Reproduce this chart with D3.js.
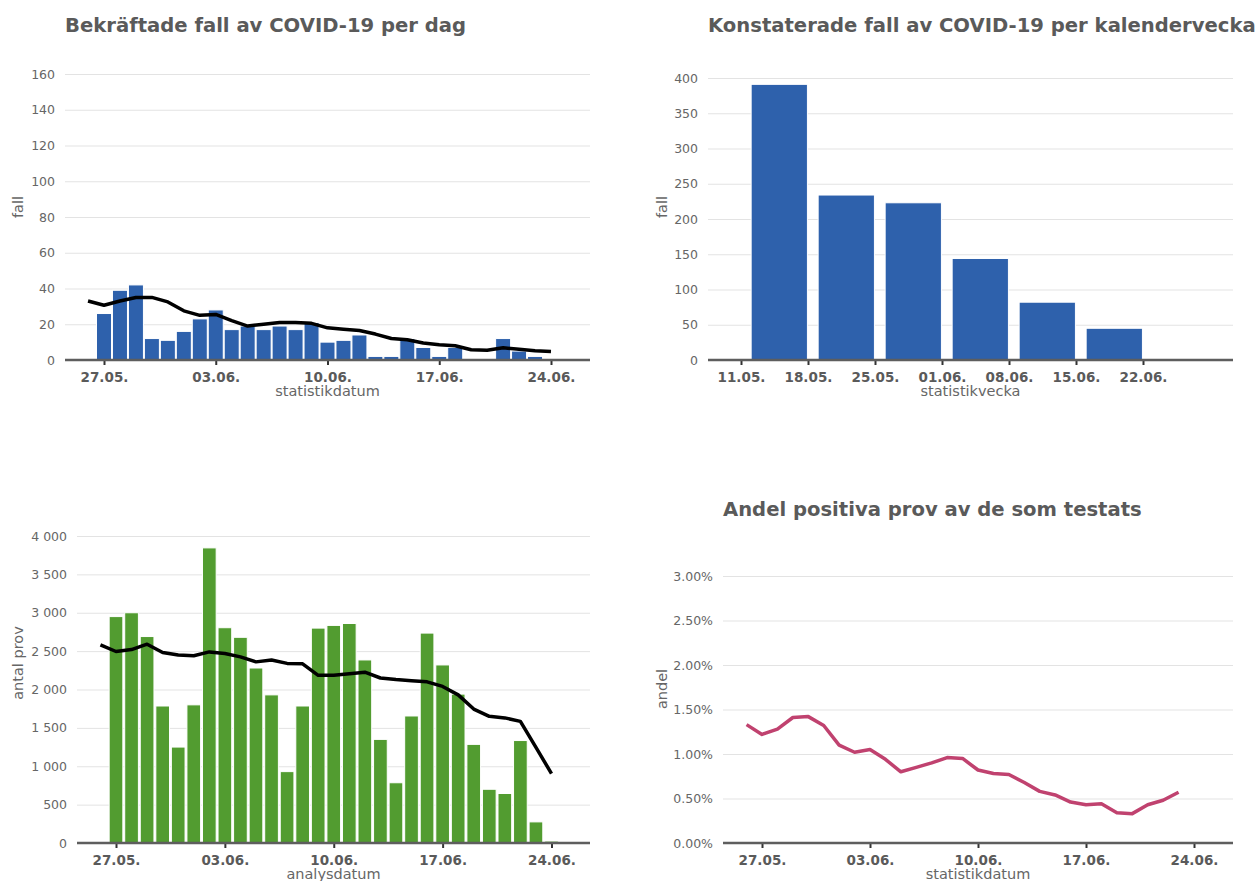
<!DOCTYPE html>
<html>
<head>
<meta charset="utf-8">
<script src="https://cdn.jsdelivr.net/npm/d3@7"></script>
<style>
  body { margin: 0; background: #fff; }
  svg, svg text { font-family: "DejaVu Sans", sans-serif; }
</style>
</head>
<body>
<svg id="chart" width="1256" height="881"></svg>
<script>
// data
var casesStart = "2020-05-27";
var casesPerDay = [26, 39, 42, 12, 11, 16, 23, 28, 17, 19, 17, 19, 17, 21, 10, 11, 14, 2, 2, 12, 7, 2, 7, 0, 0, 12, 5, 2];

var avgStart = "2020-05-26";
var casesAvg = [33, 30.6, 33, 35, 35, 32.5, 27.5, 25, 25.5, 22, 19, 20, 21, 21, 20.5, 18, 17.2, 16.5, 14.5, 12,
  11.3, 9.5, 8.5, 8, 5.7, 5.5, 6.8, 6, 5.2, 4.8];

var weekStarts = ["2020-05-11", "2020-05-18", "2020-05-25", "2020-06-01", "2020-06-08", "2020-06-15"];
var casesPerWeek = [391, 234, 223, 144, 82, 45];
var weekTicks = ["2020-05-11", "2020-05-18", "2020-05-25", "2020-06-01", "2020-06-08", "2020-06-15", "2020-06-22"];

var testsStart = "2020-05-27";
var testsPerDay = [2950, 3000, 2690, 1785, 1250, 1800, 3845, 2805, 2680, 2280, 1930, 930, 1785, 2800, 2835,
  2860, 2385, 1350, 785, 1655, 2735, 2320, 1940, 1285, 700, 645, 1335, 275, 25];
var testsAvg = [2580, 2495, 2520, 2590, 2483, 2450, 2440, 2490, 2470, 2425, 2360, 2385, 2340, 2335, 2185,
  2187, 2205, 2225, 2150, 2130, 2115, 2100, 2040, 1930, 1745, 1650, 1630, 1585, 1245, 905];

var shareStart = "2020-05-26";
var positiveShare = [1.33, 1.22, 1.28, 1.41, 1.42, 1.32, 1.10, 1.02, 1.05, 0.94, 0.80, 0.85, 0.90, 0.96, 0.95,
  0.82, 0.78, 0.77, 0.68, 0.58, 0.54, 0.46, 0.43, 0.44, 0.34, 0.33, 0.43, 0.48, 0.57];

var dayTicks = ["2020-05-27", "2020-06-03", "2020-06-10", "2020-06-17", "2020-06-24"];

var casesTicks = [0, 20, 40, 60, 80, 100, 120, 140, 160];
var weekCaseTicks = [0, 50, 100, 150, 200, 250, 300, 350, 400];
var testsTicks = [0, 500, 1000, 1500, 2000, 2500, 3000, 3500, 4000];
var shareTicks = [0, 0.5, 1, 1.5, 2, 2.5, 3];

var BLUE = "#2e61ac",
  GREEN = "#529c30",
  PINK = "#c0426f",
  TEXT = "#5a5a5a",
  FONT = "'DejaVu Sans', sans-serif";

var parse = d3.utcParse("%Y-%m-%d");
var dateFmt = d3.utcFormat("%d.%m.");
var sv = d3.formatLocale({ decimal: ",", thousands: " ", grouping: [3], currency: ["", ""] });

function series(start, values) {
  return values.map(function(v, i) {
    return { date: d3.utcDay.offset(parse(start), i), value: v };
  });
}

var svg = d3.select("#chart");

function panel(o) {
  var g = svg.append("g");
  var x = d3.scaleUtc().domain([parse(o.xd[0]), parse(o.xd[1])]).range(o.xr);
  var y = d3.scaleLinear().domain([o.yTicks[0], o.yTicks[o.yTicks.length - 1]]).range([o.bottom, o.top]);

  // grid + y labels
  var ga = g.append("g")
    .attr("transform", "translate(" + o.left + ",0)")
    .call(d3.axisLeft(y).tickValues(o.yTicks).tickSize(-(o.right - o.left)).tickPadding(10).tickFormat(o.yFormat))
    .attr("font-family", FONT);
  ga.select(".domain").remove();
  ga.selectAll("line").attr("stroke", "#e3e3e3").attr("stroke-width", 1);
  ga.selectAll("text").attr("fill", "#666").style("font-size", "12.5px");

  o.draw(g, x, y);

  // x axis
  var xa = g.append("g")
    .attr("transform", "translate(0," + o.bottom + ")")
    .call(d3.axisBottom(x).tickValues(o.xTicks.map(parse)).tickFormat(dateFmt).tickSize(5).tickPadding(7))
    .attr("font-family", FONT);
  xa.select(".domain").remove();
  xa.selectAll("line").attr("stroke", "#333").attr("stroke-width", 2);
  xa.selectAll("text").attr("fill", TEXT).style("font-size", "13.5px").style("font-weight", "bold");
  xa.append("line")
    .attr("x1", o.left).attr("x2", o.right)
    .attr("stroke", "#5e5e5e").attr("stroke-width", 2.5);

  g.append("text")
    .attr("x", (o.left + o.right) / 2).attr("y", o.bottom + 36)
    .attr("text-anchor", "middle").attr("fill", "#666").style("font-size", "14.5px")
    .text(o.xTitle);

  g.append("text")
    .attr("transform", "translate(" + o.yTitleX + "," + o.yTitleY + ") rotate(-90)")
    .attr("text-anchor", "middle").attr("fill", "#666").style("font-size", "14.5px")
    .text(o.yTitle);

  if (o.title) {
    g.append("text")
      .attr("x", o.titleX).attr("y", o.titleY)
      .attr("fill", TEXT).style("font-size", "19.6px").style("font-weight", "bold")
      .text(o.title);
  }
}

function dailyBars(data, colour, frac) {
  return function(g, x, y) {
    var w = (x(d3.utcDay.offset(data[0].date, 1)) - x(data[0].date)) * frac;
    g.append("g").selectAll("rect")
      .data(data.filter(function(d) { return d.value > 0; }))
      .enter().append("rect")
      .attr("x", function(d) { return x(d.date) - w / 2; })
      .attr("y", function(d) { return y(d.value); })
      .attr("width", w)
      .attr("height", function(d) { return y(0) - y(d.value); })
      .attr("fill", colour)
      .attr("stroke", "#fff").attr("stroke-width", 1);
  };
}

function trend(data, colour) {
  return function(g, x, y) {
    g.append("path")
      .datum(data)
      .attr("fill", "none")
      .attr("stroke", colour)
      .attr("stroke-width", 3.5)
      .attr("stroke-linejoin", "round")
      .attr("d", d3.line().x(function(d) { return x(d.date); }).y(function(d) { return y(d.value); }));
  };
}

function both(a, b) {
  return function(g, x, y) { a(g, x, y); b(g, x, y); };
}

// top left: cases per day
panel({
  left: 65, right: 590, top: 74, bottom: 360,
  xd: ["2020-05-27", "2020-06-24"], xr: [104, 551],
  xTicks: dayTicks, yTicks: casesTicks, yFormat: d3.format("d"),
  xTitle: "statistikdatum", yTitle: "fall", yTitleX: 23, yTitleY: 207,
  title: "Bekräftade fall av COVID-19 per dag", titleX: 65, titleY: 32,
  draw: both(dailyBars(series(casesStart, casesPerDay), BLUE, 0.94), trend(series(avgStart, casesAvg), "#000"))
});

// top right: cases per week
panel({
  left: 708, right: 1233, top: 78, bottom: 360,
  xd: ["2020-05-11", "2020-06-22"], xr: [741, 1143],
  xTicks: weekTicks, yTicks: weekCaseTicks, yFormat: d3.format("d"),
  xTitle: "statistikvecka", yTitle: "fall", yTitleX: 667, yTitleY: 207,
  title: "Konstaterade fall av COVID-19 per kalendervecka", titleX: 708, titleY: 32,
  draw: function(g, x, y) {
    var data = weekStarts.map(function(d, i) { return { date: parse(d), value: casesPerWeek[i] }; });
    var wk = x(d3.utcDay.offset(data[0].date, 7)) - x(data[0].date);
    g.append("g").selectAll("rect")
      .data(data)
      .enter().append("rect")
      .attr("x", function(d) { return x(d3.utcDay.offset(d.date, 4)) - wk * 0.42; })
      .attr("y", function(d) { return y(d.value); })
      .attr("width", wk * 0.84)
      .attr("height", function(d) { return y(0) - y(d.value); })
      .attr("fill", BLUE)
      .attr("stroke", "#fff").attr("stroke-width", 1);
  }
});

// bottom left: tests per day
panel({
  left: 77, right: 590, top: 536, bottom: 843,
  xd: ["2020-05-27", "2020-06-24"], xr: [116, 551.5],
  xTicks: dayTicks, yTicks: testsTicks, yFormat: sv.format(",d"),
  xTitle: "analysdatum", yTitle: "antal prov", yTitleX: 23, yTitleY: 663,
  draw: both(dailyBars(series(testsStart, testsPerDay), GREEN, 0.88), trend(series(avgStart, testsAvg), "#000"))
});

// bottom right: share positive
panel({
  left: 723, right: 1233, top: 576, bottom: 843,
  xd: ["2020-05-27", "2020-06-24"], xr: [762, 1194],
  xTicks: dayTicks, yTicks: shareTicks, yFormat: function(d) { return d3.format(".2f")(d) + "%"; },
  xTitle: "statistikdatum", yTitle: "andel", yTitleX: 667, yTitleY: 689,
  title: "Andel positiva prov av de som testats", titleX: 723, titleY: 516,
  draw: trend(series(shareStart, positiveShare), PINK)
});
</script>
</body>
</html>
